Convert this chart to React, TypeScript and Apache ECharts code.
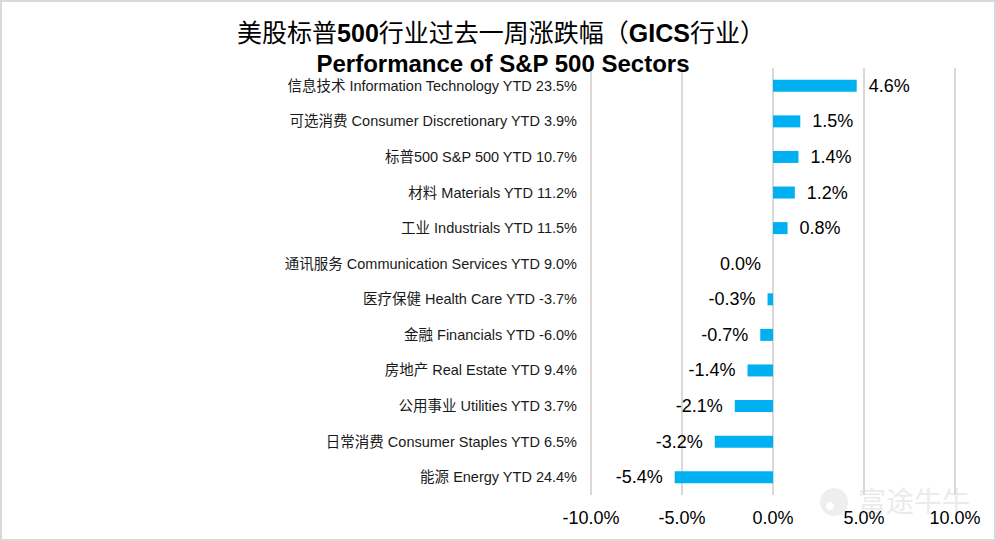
import React, { useEffect, useRef } from "react";
import * as echarts from "echarts";

const categories: string[] = [
  "信息技术 Information Technology YTD 23.5%",
  "可选消费 Consumer Discretionary YTD 3.9%",
  "标普500 S&P 500 YTD 10.7%",
  "材料 Materials YTD 11.2%",
  "工业 Industrials YTD 11.5%",
  "通讯服务 Communication Services YTD 9.0%",
  "医疗保健 Health Care YTD -3.7%",
  "金融 Financials YTD -6.0%",
  "房地产 Real Estate YTD 9.4%",
  "公用事业 Utilities YTD 3.7%",
  "日常消费 Consumer Staples YTD 6.5%",
  "能源 Energy YTD 24.4%",
];

const weeklyChange: number[] = [4.6, 1.5, 1.4, 1.2, 0.8, 0.0, -0.3, -0.7, -1.4, -2.1, -3.2, -5.4];

const xMin = -10;
const xMax = 10;
const xInterval = 5;

const titleCn = ["美股标普", "500", "行业过去一周涨跌幅（", "GICS", "行业）"];
const titleEn = "Performance of S&P 500 Sectors";
const watermark = "富途牛牛";

const FONT = '"Liberation Sans", Arial, "Noto Sans CJK SC", sans-serif';

export default function App() {
  const ref = useRef<HTMLDivElement>(null);

  useEffect(() => {
    document.body.style.margin = "0";
    if (!ref.current) return;
    const chart = echarts.init(ref.current, undefined, { renderer: "svg" });

    const data = weeklyChange.map((v) => ({
      value: v,
      label: {
        position: v > 0 ? "right" : "left",
      },
    }));

    const option: any = {
      animation: false,
      backgroundColor: "#ffffff",
      textStyle: { fontFamily: FONT },
      title: [
        {
          text:
            "{n|" + titleCn[0] + "}{b|" + titleCn[1] + "}{n|" + titleCn[2] + "}{b|" + titleCn[3] + "}{n|" + titleCn[4] + "}",
          left: 496,
          textAlign: "center",
          top: 15,
          textStyle: {
            rich: {
              n: { fontSize: 25, fontFamily: FONT, color: "#000", fontWeight: "normal" },
              b: { fontSize: 25, fontFamily: FONT, color: "#000", fontWeight: "bold" },
            },
          },
        },
        {
          text: titleEn,
          left: 498,
          textAlign: "center",
          top: 46,
          textStyle: { fontSize: 24, fontWeight: "bold", color: "#000", fontFamily: FONT },
        },
      ],
      grid: { left: 591, right: 41, top: 68, bottom: 46, containLabel: false },
      xAxis: {
        type: "value",
        min: xMin,
        max: xMax,
        interval: xInterval,
        axisLine: { show: false },
        axisTick: { show: false },
        axisLabel: {
          formatter: (v: number) => v.toFixed(1) + "%",
          fontSize: 18,
          color: "#000",
          margin: 14,
          fontFamily: FONT,
        },
        splitLine: { show: true, lineStyle: { color: "#d9d9d9", width: 2 } },
      },
      yAxis: {
        type: "category",
        data: categories,
        inverse: true,
        axisLine: { show: false, onZero: false },
        axisTick: { show: false },
        axisLabel: { fontSize: 14.5, color: "#1a1a1a", margin: 14, fontFamily: FONT },
        splitLine: { show: false },
      },
      series: [
        {
          type: "bar",
          data,
          barWidth: 12,
          itemStyle: { color: "#00B0F0" },
          label: {
            show: true,
            distance: 12,
            fontSize: 18,
            color: "#000",
            fontFamily: FONT,
            formatter: (p: any) => Number(p.value).toFixed(1) + "%",
          },
        },
      ],
      graphic: [
        {
          type: "rect",
          shape: { x: 1, y: 1, width: 994, height: 539 },
          style: { fill: "none", stroke: "#d9d9d9", lineWidth: 2 },
          silent: true,
        },
        {
          type: "circle",
          shape: { cx: 834, cy: 502, r: 14 },
          style: { fill: "#eceef0" },
          silent: true,
        },
        {
          type: "circle",
          shape: { cx: 830, cy: 506, r: 4 },
          style: { fill: "#ffffff" },
          silent: true,
        },
        {
          type: "text",
          x: 858,
          y: 500,
          style: {
            text: watermark,
            fontSize: 28,
            fill: "#e9ebed",
            fontFamily: '"Noto Sans CJK SC", sans-serif',
            verticalAlign: "middle",
          },
          silent: true,
        },
      ],
    };

    chart.setOption(option);
    return () => chart.dispose();
  }, []);

  return (
    <div
      ref={ref}
      style={{ position: "absolute", left: 0, top: 0, width: 996, height: 541 }}
    />
  );
}
